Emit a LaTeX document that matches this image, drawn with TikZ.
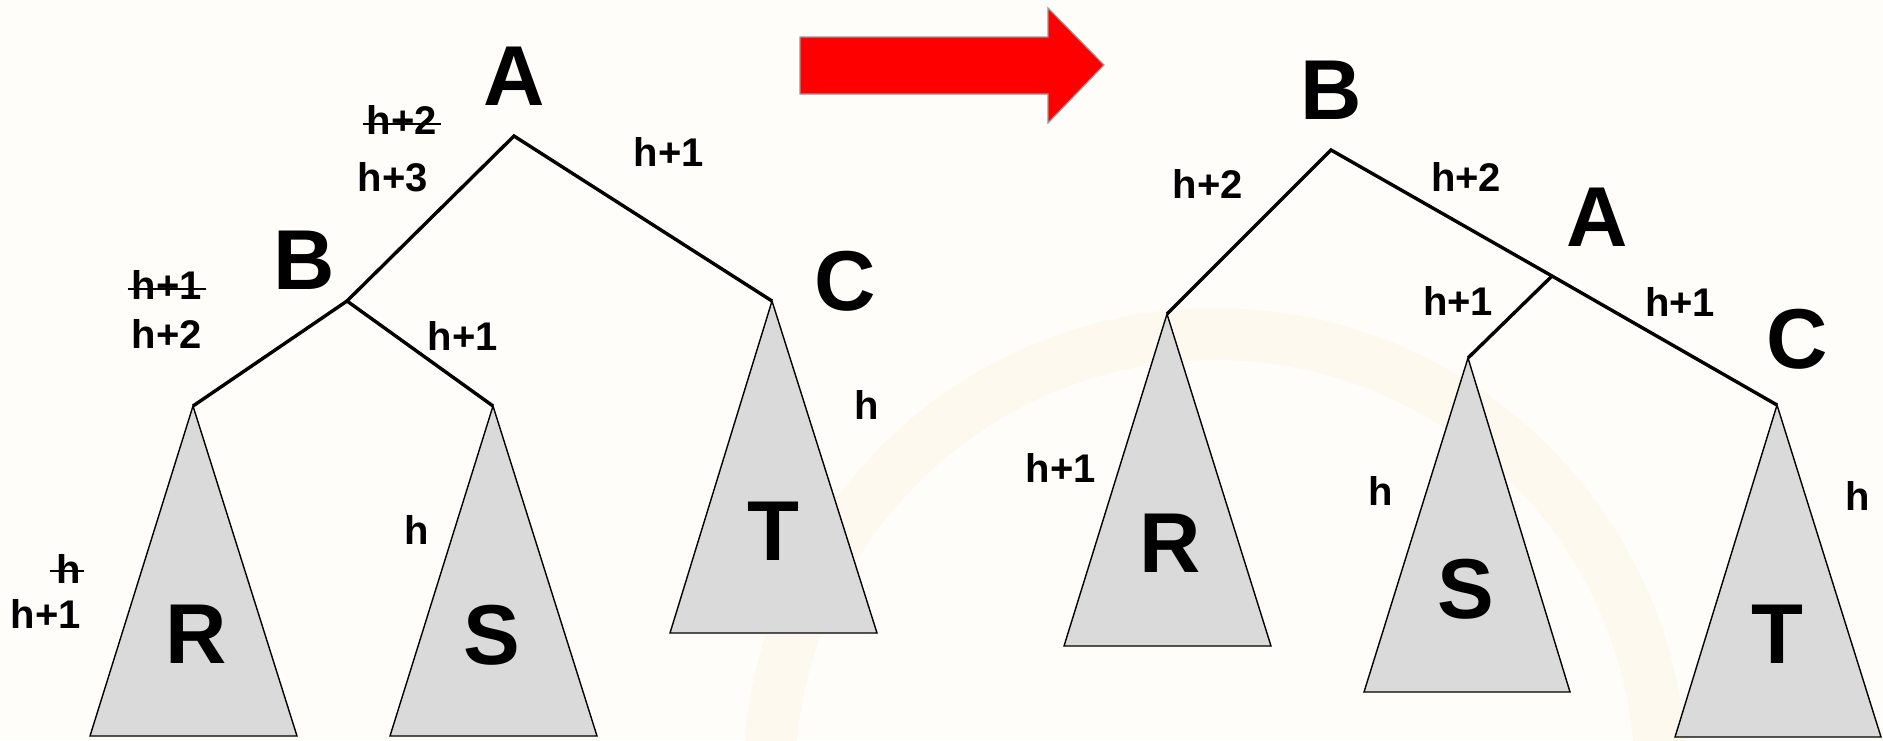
\documentclass[tikz,border=0pt]{standalone}
\usepackage{fontspec}
\setmainfont{Liberation Sans}
\begin{document}
\begin{tikzpicture}[x=0.5pt,y=-0.5pt,
  big/.style={inner sep=0pt,font=\fontsize{42.5}{44}\selectfont\bfseries},
  lab/.style={inner sep=0pt,font=\fontsize{20}{22}\selectfont\bfseries},
  edge/.style={line width=1.7pt,line join=miter},
  subtree/.style={fill=treegray,draw=black,line width=0.7pt},
  strike/.style={line width=1.4pt}]
\definecolor{treegray}{RGB}{218,218,218}
\definecolor{bgcol}{RGB}{254,253,250}
\definecolor{ringcol}{RGB}{254,249,238}
\definecolor{arrowred}{RGB}{255,0,0}
\useasboundingbox (0,0) rectangle (1883,740);
\fill[bgcol] (0,0) rectangle (1883,740);
\begin{scope}
\clip (0,0) rectangle (1883,740);
\fill[ringcol,even odd rule] (1215,780) circle (472) (1215,780) circle (420);
\end{scope}

% red arrow
\fill[arrowred,draw=gray!80,line width=0.6pt]
  (800,37) -- (1048,37) -- (1048,8) -- (1104,65) -- (1048,123) -- (1048,94) -- (800,94) -- cycle;

% ---------- left tree ----------
\coordinate (lA) at (514,136);
\coordinate (lB) at (347,301);
\coordinate (lC) at (772,301);
\coordinate (lR) at (193,406);
\coordinate (lS) at (493,406);
\filldraw[subtree] (lR) -- (297,736) -- (90,736) -- cycle;
\filldraw[subtree] (lS) -- (597,736) -- (390,736) -- cycle;
\filldraw[subtree] (lC) -- (877,633) -- (670,633) -- cycle;
\draw[edge] (lB) -- (lA) -- (lC);
\draw[edge] (lR) -- (lB) -- (lS);

\node[big] (nlA) at (514,76) {A};
\node[big] (nlB) at (304,260) {B};
\node[big] (nlC) at (845,281) {C};
\node[big] (nlR) at (196,634) {R};
\node[big] (nlS) at (492,635) {S};
\node[big] (nlT) at (773,531) {T};

\node[lab] (l1) at (402,120) {h+2};
\draw[strike] ([xshift=-2pt,yshift=-2pt]l1.west) -- ([xshift=2pt,yshift=-2pt]l1.east);
\node[lab] (l2) at (393,177) {h+3};
\node[lab] (l3) at (669,152) {h+1};
\node[lab] (l4) at (167,285) {h+1};
\draw[strike] ([xshift=-2pt,yshift=-2pt]l4.west) -- ([xshift=2pt,yshift=-2pt]l4.east);
\node[lab] (l5) at (167,334) {h+2};
\node[lab] (l6) at (463,336) {h+1};
\node[lab] (l7) at (867,405) {h};
\node[lab] (l8) at (417,530) {h};
\node[lab] (l9) at (69,569) {h};
\draw[strike] ([xshift=-3pt,yshift=-1pt]l9.west) -- ([xshift=1pt,yshift=-1pt]l9.east);
\node[lab] (l10) at (46,614) {h+1};

% ---------- right tree ----------
\coordinate (rB) at (1331,150);
\coordinate (rA) at (1552,276);
\coordinate (rC) at (1777,405);
\coordinate (rR) at (1167,314);
\coordinate (rS) at (1468,358);
\filldraw[subtree] (rR) -- (1271,646) -- (1064,646) -- cycle;
\filldraw[subtree] (rS) -- (1570,692) -- (1364,692) -- cycle;
\filldraw[subtree] (rC) -- (1881,737) -- (1675,737) -- cycle;
\draw[edge] (rR) -- (rB) -- (rA) -- (rC);
\draw[edge] (rA) -- (rS);

\node[big] (nrB) at (1331,90) {B};
\node[big] (nrA) at (1597,217) {A};
\node[big] (nrC) at (1797,339) {C};
\node[big] (nrR) at (1170,543) {R};
\node[big] (nrS) at (1466,589) {S};
\node[big] (nrT) at (1777,634) {T};

\node[lab] (r1) at (1208,184) {h+2};
\node[lab] (r2) at (1466,177) {h+2};
\node[lab] (r3) at (1458,301) {h+1};
\node[lab] (r4) at (1680,302) {h+1};
\node[lab] (r5) at (1061,468) {h+1};
\node[lab] (r6) at (1381,491) {h};
\node[lab] (r7) at (1858,496) {h};
\end{tikzpicture}
\end{document}
